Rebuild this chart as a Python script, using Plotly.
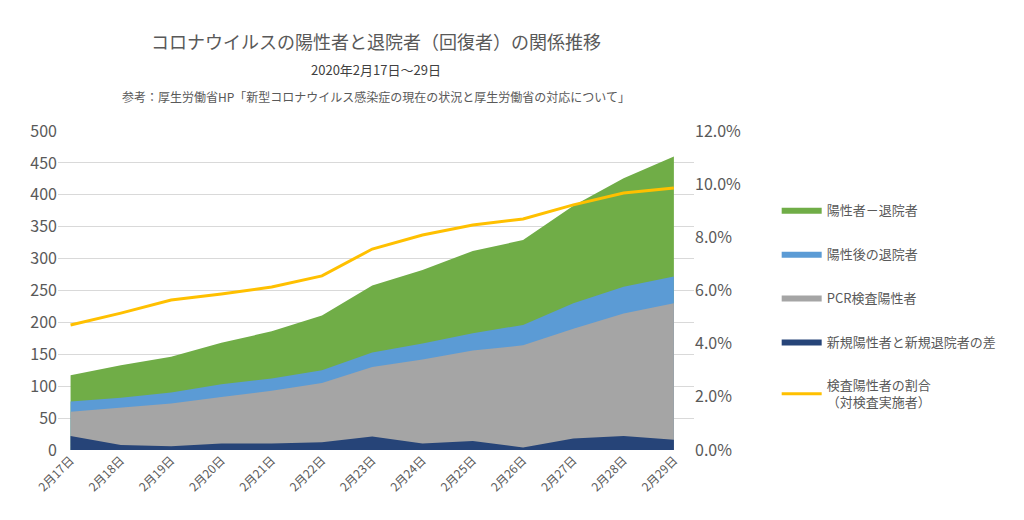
import plotly.graph_objects as go

dates = ["2月17日", "2月18日", "2月19日", "2月20日", "2月21日", "2月22日", "2月23日",
         "2月24日", "2月25日", "2月26日", "2月27日", "2月28日", "2月29日"]
# cumulative (stacked) tops
diff = [22, 8, 6, 10, 10, 12, 21, 10, 14, 4, 18, 22, 16]
pcr_top = [60, 66, 73, 83, 93, 105, 130, 142, 156, 164, 190, 214, 230]
disc_top = [76, 82, 90, 103, 112, 125, 153, 167, 183, 196, 230, 256, 272]
green_top = [117, 133, 146, 168, 186, 211, 258, 282, 312, 329, 383, 426, 460]
ratio = [0.0470, 0.0515, 0.0564, 0.0587, 0.0613, 0.0655, 0.0756, 0.0809,
         0.0846, 0.0869, 0.0922, 0.0967, 0.0986]

FONT = "Noto Sans CJK JP"
fig = go.Figure()
for name, vals, col in [("陽性者－退院者", green_top, "#70AD47"),
                        ("陽性後の退院者", disc_top, "#5B9BD5"),
                        ("PCR検査陽性者", pcr_top, "#A5A5A5"),
                        ("新規陽性者と新規退院者の差", diff, "#264478")]:
    fig.add_trace(go.Scatter(x=dates, y=vals, name=name, legendgroup=name, mode="lines",
                             fill="tozeroy", line=dict(width=0, color=col), fillcolor=col))
fig.add_trace(go.Scatter(x=dates, y=ratio, name="検査陽性者の割合<br>（対検査実施者）",
                         legendgroup="ratio", mode="lines",
                         line=dict(color="#FFC000", width=3), yaxis="y2"))

fig.update_layout(
    width=1024, height=520, paper_bgcolor="white", plot_bgcolor="white",
    font=dict(family=FONT, color="#595959", size=14),
    margin=dict(l=50, r=338, t=123, b=78, autoexpand=False),
    xaxis=dict(tickangle=-45, showgrid=False, range=[-0.25, 12.4], showline=False,
               tickfont=dict(size=12), ticks="", automargin=False),
    yaxis=dict(range=[0, 500], dtick=50, showgrid=True, gridcolor="#D9D9D9",
               tickfont=dict(size=16), zeroline=False, automargin=False),
    yaxis2=dict(range=[0, 0.12], dtick=0.02, tickformat=".1%", overlaying="y", side="right",
                showgrid=False, tickfont=dict(size=16), zeroline=False, automargin=False),
    legend=dict(x=1.13, y=0.8, xanchor="left", yanchor="top", traceorder="grouped",
                tracegroupgap=24, font=dict(size=13), itemwidth=40),
    annotations=[
        dict(text="コロナウイルスの陽性者と退院者（回復者）の関係推移", xref="paper", yref="paper",
             x=0.5, y=1.0, xanchor="center", yanchor="bottom", yshift=75, showarrow=False,
             font=dict(size=18, color="#595959")),
        dict(text="2020年2月17日～29日", xref="paper", yref="paper", x=0.5, y=1.0,
             xanchor="center", yanchor="bottom", yshift=50, showarrow=False,
             font=dict(size=13, color="#404040")),
        dict(text="参考：厚生労働省HP「新型コロナウイルス感染症の現在の状況と厚生労働省の対応について」",
             xref="paper", yref="paper", x=0.5, y=1.0, xanchor="center", yanchor="bottom",
             yshift=24, showarrow=False, font=dict(size=12, color="#595959")),
    ],
)
fig.write_html("out.html")
